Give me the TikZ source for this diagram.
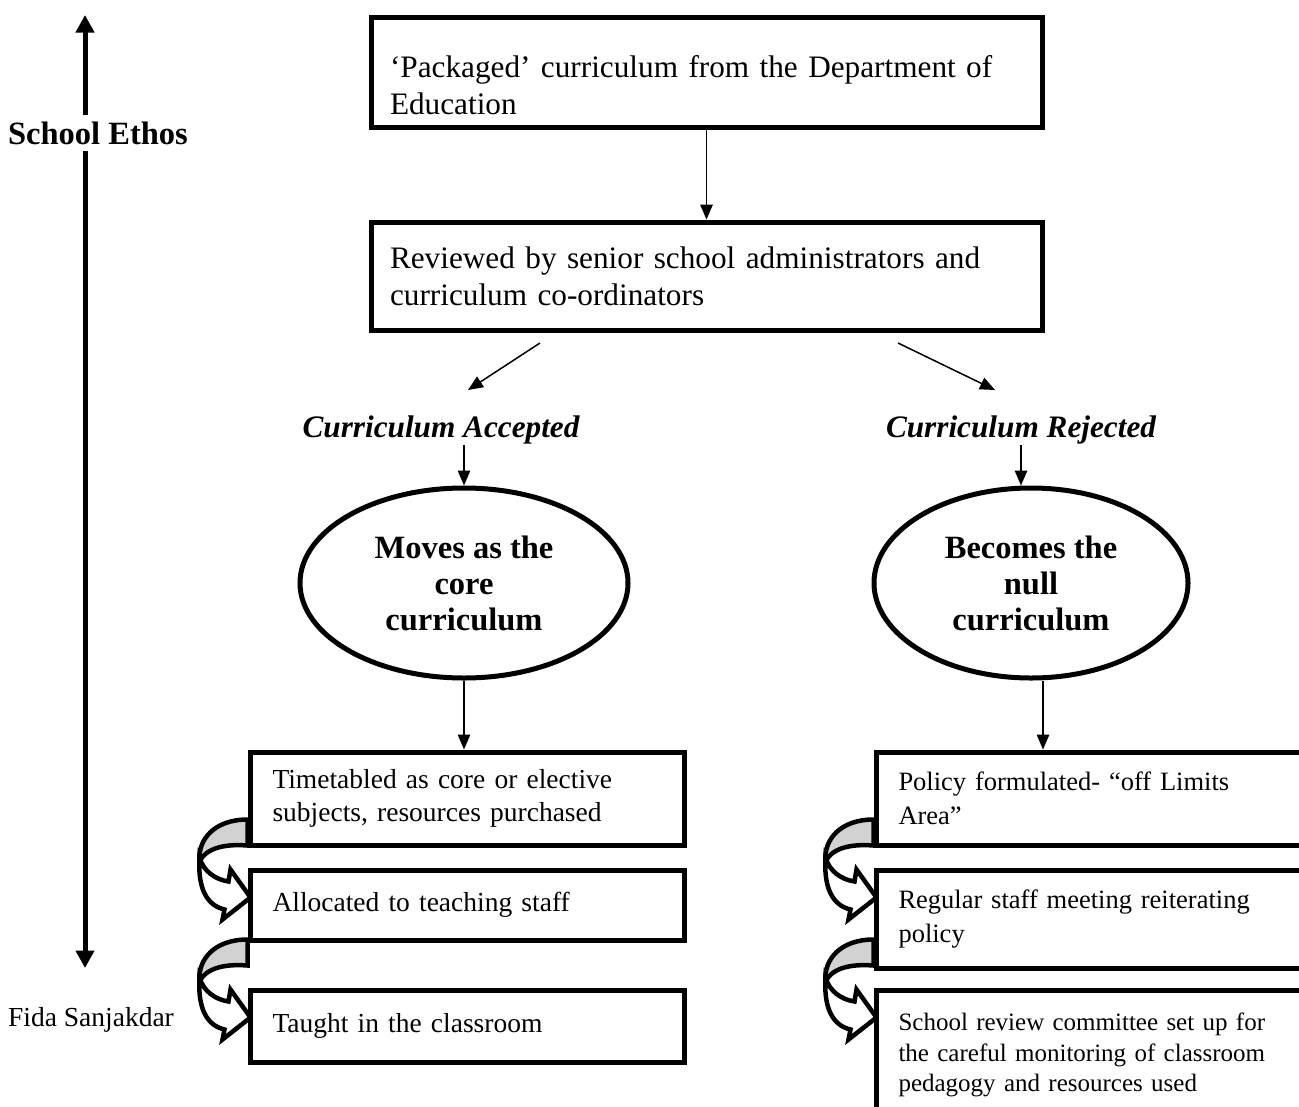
\documentclass[tikz,border=0pt]{standalone}
\usepackage{fontspec}
\setmainfont{Liberation Serif}
\usepackage{tikz}
\usetikzlibrary{shapes.geometric, arrows.meta, positioning, calc, backgrounds}

\tikzset{
  turnarrow/.pic={
    % back face of the bent arrow
    \draw[line width=1.8pt, fill=gray!35] (-2,-78) .. controls (-35,-78) and (-52,-58) .. (-50,-36) .. controls (-44,-48) and (-28,-54) .. (-2,-52) -- cycle;
    % front face with its head
    \draw[line width=1.8pt, fill=white] (-50,-40) .. controls (-52,-8) and (-42,8) .. (-25,12) -- (-27,22) -- (1,0) -- (-19,-28) -- (-21,-16) .. controls (-34,-18) and (-46,-26) .. (-50,-40) -- cycle;
  }
}

\begin{document}
\begin{tikzpicture}[x=0.4pt, y=-0.4pt,
    box/.style={draw, line width=2pt, fill=white, align=left, inner xsep=7.6pt, text width=253.2pt, font=\fontsize{12.5}{14.8}\selectfont},
    taskbox/.style={draw, line width=2pt, fill=white, align=left, inner xsep=9pt, text width=155.6pt, font=\fontsize{11}{13.2}\selectfont},
    nullbox/.style={taskbox, text width=159.6pt, font=\fontsize{10.6}{13.4}\selectfont},
    oval/.style={draw, ellipse, line width=2pt, fill=white, align=center, inner sep=0pt, minimum height=76pt, font=\fontsize{13}{14.4}\selectfont\bfseries},
    branch/.style={inner sep=0pt, font=\fontsize{12.5}{15}\selectfont\bfseries\itshape},
    flow/.style={-{Triangle[length=6pt,width=5pt]}, line width=0.6pt},
    ethosline/.style={-{Triangle[length=7pt,width=7.2pt]}, line width=2pt}]
    \useasboundingbox (0,0) rectangle (1299,1106);
    \clip (0,0) rectangle (1299,1106); % page edge cuts the right column

    % School ethos scale on the left
    \coordinate (ethosTop) at (85,15);
    \coordinate (ethosBot) at (85,968);
    \node[inner xsep=0pt, inner ysep=2.5pt, font=\fontsize{13}{15}\selectfont\bfseries] (ethos) at (98,133) {School Ethos};
    \draw[ethosline] (ethos.north -| ethosTop) -- (ethosTop);
    \draw[ethosline] (ethos.south -| ethosTop) -- (ethosBot);
    \node[font=\fontsize{11}{13}\selectfont] (author) at (91,1020) {Fida Sanjakdar};

    % Top of the flow
    \node[box, minimum height=43.6pt] (pkg) at (706.5,72.5) {\rule{0pt}{19pt}`Packaged' curriculum from the Department of\\Education};
    \node[box, minimum height=43.2pt] (rev) at (706.5,276) {Reviewed by senior school administrators and\\curriculum co-ordinators};
    \draw[flow] (pkg) -- (rev);

    % The two outcomes
    \coordinate (accFrom) at (540,343);
    \coordinate (accTo) at (468,390);
    \coordinate (rejFrom) at (898,343);
    \coordinate (rejTo) at (995,390);
    \draw[flow] (accFrom) -- (accTo);
    \draw[flow] (rejFrom) -- (rejTo);
    \node[branch] (acc) at (441,430) {Curriculum Accepted};
    \node[branch] (rej) at (1021,430) {Curriculum Rejected};

    \node[oval, minimum width=131.2pt] (core) at (464,583) {Moves as the\\core\\curriculum};
    \node[oval, minimum width=125.6pt] (null) at (1031,583) {Becomes the\\null\\curriculum};
    \draw[flow] (acc.south -| core.north) -- (core.north);
    \draw[flow] (rej.south) -- (rej.south |- null.north);

    % Left column: accepted
    \node[taskbox, minimum height=37.2pt] (timet) at (467,798.5) {Timetabled as core or elective\\subjects, resources purchased};
    \node[taskbox, minimum height=28pt] (alloc) at (467,905) {Allocated to teaching staff};
    \node[taskbox, minimum height=28.8pt] (taught) at (467,1026) {Taught in the classroom};
    \draw[flow] (core.south) -- (core.south |- timet.north);

    % Right column: rejected
    \node[nullbox, minimum height=37.2pt] (policy) at (1098,798.5) {Policy formulated- ``off Limits\\Area''};
    \node[nullbox, minimum height=39.2pt] (meet) at (1098,919) {Regular staff meeting reiterating\\policy};
    \node[nullbox, minimum height=52pt, font=\fontsize{10}{12.2}\selectfont] (review) at (1098,1055) {School review committee set up for\\the careful monitoring of classroom\\pedagogy and resources used};
    \coordinate (nullOut) at ($(null.south)+(12,0)$);
    \draw[flow] (nullOut) -- (nullOut |- policy.north);

    % Bent arrows between the steps
    \begin{scope}[on background layer]
        \pic at ($(alloc.north west)+(2,30)$) {turnarrow};
        \pic at ($(taught.north west)+(2,30)$) {turnarrow};
        \pic at ($(meet.north west)+(2,30)$) {turnarrow};
        \pic at ($(review.north west)+(2,30)$) {turnarrow};
    \end{scope}
\end{tikzpicture}
\end{document}
